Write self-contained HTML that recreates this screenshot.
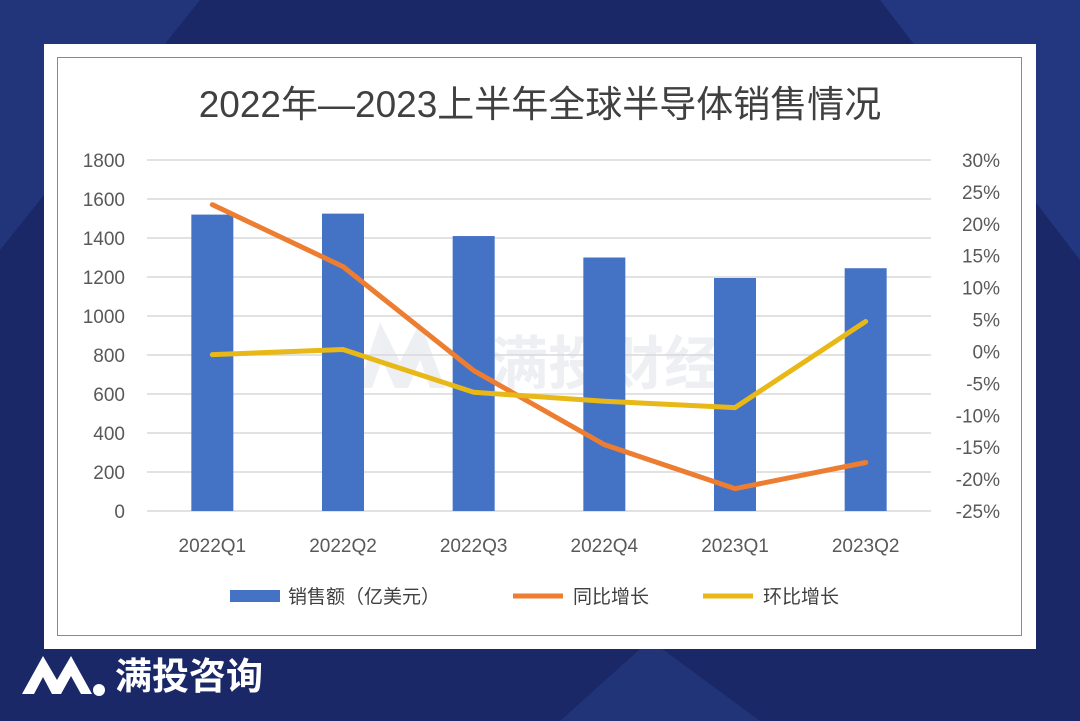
<!DOCTYPE html>
<html><head><meta charset="utf-8"><style>
html,body{margin:0;padding:0;width:1080px;height:721px;overflow:hidden;background:#1a2868;}
svg text{font-family:"Liberation Sans","Noto Sans CJK SC",sans-serif;}
</style></head><body>
<svg id="c" width="1080" height="721" xmlns="http://www.w3.org/2000/svg">
<rect width="1080" height="721" fill="#1a2868"/>
<polygon points="0,0 200,0 0,250" fill="#22347a"/>
<polygon points="880,0 1080,0 1080,260" fill="#233680"/>
<polygon points="560,721 650,640 760,721" fill="#223478"/>
<rect x="44" y="44" width="992" height="605" fill="#ffffff"/>
<rect x="57.5" y="57.5" width="964" height="578" fill="#ffffff" stroke="#8a8a8a" stroke-width="1"/>
<text x="540" y="117" text-anchor="middle" font-size="37" fill="#404040">2022年—2023上半年全球半导体销售情况</text>
<g opacity="0.6">
<path d="M358,388 L380,322 L400,362 L420,322 L445,388 L430,388 L420,360 L408,388 L395,388 L382,360 L372,388 Z" fill="#e4e6ec"/>
<text x="490" y="384" font-size="58" fill="#e4e6ec" font-weight="bold">满投财经</text>
</g>
<g id="grid"></g><g id="bars"></g><g id="lines"></g><g id="axes"></g>
<g>
<rect x="230" y="590" width="50" height="12" fill="#4472c4"/>
<text x="288" y="603" font-size="19" fill="#404040">销售额（亿美元）</text>
<line x1="513" y1="596" x2="563" y2="596" stroke="#ed7d31" stroke-width="5"/>
<text x="573" y="603" font-size="19" fill="#404040">同比增长</text>
<line x1="703" y1="596" x2="753" y2="596" stroke="#e8b816" stroke-width="5"/>
<text x="763" y="603" font-size="19" fill="#404040">环比增长</text>
</g>
<g>
<path d="M22,694 L43,656 L57,680 L71,656 L92,694 L81,694 L71,676 L61,694 L52,694 L43,677 L34,694 Z" fill="#ffffff"/>
<circle cx="99" cy="690" r="6" fill="#ffffff"/>
<text x="115" y="689" font-size="37" font-weight="bold" fill="#ffffff">满投咨询</text>
</g>
</svg>
<script>
const categories=["2022Q1","2022Q2","2022Q3","2022Q4","2023Q1","2023Q2"];
const sales=[1520,1525,1410,1300,1195,1245];
const yoy=[23,13.3,-3,-14.6,-21.5,-17.4];
const qoq=[-0.5,0.3,-6.4,-7.8,-8.8,4.7];
const leftTicks=[0,200,400,600,800,1000,1200,1400,1600,1800];
const rightTicks=[-25,-20,-15,-10,-5,0,5,10,15,20,25,30];
const NS="http://www.w3.org/2000/svg";
const x0=147,x1=931,yTop=160,yBot=511;
const yL=v=>yBot-(v/1800)*(yBot-yTop);
const yR=v=>yBot-((v+25)/55)*(yBot-yTop);
const step=(x1-x0)/categories.length;
const xC=i=>x0+step*(i+0.5);
function mk(t,a,p){const e=document.createElementNS(NS,t);for(const k in a)e.setAttribute(k,a[k]);document.getElementById(p).appendChild(e);return e;}
leftTicks.forEach(v=>{
 const l=mk('line',{x1:x0,x2:x1,y1:yL(v),y2:yL(v),stroke:'#d9d9d9','stroke-width':1.5},'grid');
 
 
 const t=mk('text',{x:125,y:yL(v)+7,'text-anchor':'end','font-size':19,fill:'#595959'},'axes');
 t.textContent=v;
 
 
});
rightTicks.forEach(v=>{
 const t=mk('text',{x:1000,y:yR(v)+7,'text-anchor':'end','font-size':19,fill:'#595959'},'axes');
 t.textContent=v+'%';
 
 
});
categories.forEach((c,i)=>{
 const t=mk('text',{x:xC(i),y:552,'text-anchor':'middle','font-size':19,fill:'#595959'},'axes');
 t.textContent=c;
 
 
 const b=mk('rect',{x:xC(i)-21,y:yL(sales[i]),width:42,height:yBot-yL(sales[i]),fill:'#4472c4'},'bars');
 
 
});
function line(arr,col,name){
 const p=mk('polyline',{points:arr.map((v,i)=>xC(i)+','+yR(v)).join(' '),fill:'none',stroke:col,'stroke-width':5,'stroke-linejoin':'round','stroke-linecap':'round'},'lines');
 
 
}
line(yoy,'#ed7d31','line-yoy');
line(qoq,'#e8b816','line-qoq');
</script>
</body></html>
